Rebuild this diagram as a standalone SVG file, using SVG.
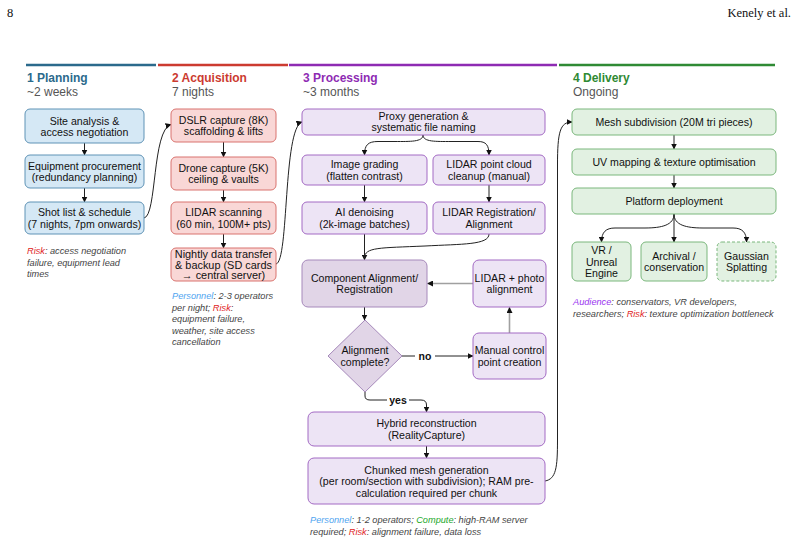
<svg xmlns="http://www.w3.org/2000/svg" width="801" height="544" viewBox="0 0 801 544">
<style>
text{font-family:"Liberation Sans",Arial,sans-serif;}
.pg{font-family:"Liberation Serif","Times New Roman",serif;font-size:12.5px;fill:#111}
.h{font-size:12px;font-weight:bold}
.sub{font-size:12px;fill:#555}
.t{font-size:10.6px;fill:#111;text-anchor:middle}
.note{font-size:9.2px;font-style:italic;fill:#444}
.lbl{font-size:10.5px;font-weight:bold;fill:#111;text-anchor:middle}
.pl{fill:#d5e8f5;stroke:#5f93b6;stroke-width:1}
.ac{fill:#f9d7d6;stroke:#d9736e;stroke-width:1}
.pr{fill:#ede4f5;stroke:#a36ac4;stroke-width:1}
.pr2{fill:#e1d5e7;stroke:#a689bb;stroke-width:1}
.de{fill:#e2f1e2;stroke:#7ab77c;stroke-width:1}
.c{fill:none;stroke:#222;stroke-width:1}
.g{fill:none;stroke:#a0a0a0;stroke-width:1.6}
.risk{fill:#e02424}
.pers{fill:#4ea4f0}
.comp{fill:#22a82a}
.aud{fill:#9a33f0}
</style>
<defs>
<marker id="a" markerWidth="6" markerHeight="6" refX="5.5" refY="3" orient="auto" markerUnits="userSpaceOnUse">
<path d="M0,0 L6,3 L0,6 z" fill="#111"/>
</marker>
</defs>

<text class="pg" x="7" y="17">8</text>
<text class="pg" x="791" y="17" text-anchor="end">Kenely et al.</text>

<g id="headers">
<line x1="26" y1="65" x2="156" y2="65" stroke="#2b6a8c" stroke-width="2.5"/>
<line x1="158" y1="65" x2="288" y2="65" stroke="#cc3b30" stroke-width="2.5"/>
<line x1="289" y1="65" x2="557" y2="65" stroke="#8e2bb3" stroke-width="2.5"/>
<line x1="559" y1="65" x2="775" y2="65" stroke="#2f8a34" stroke-width="2.5"/>
<text class="h" x="27" y="82" fill="#2b6a8c">1 Planning</text>
<text class="sub" x="27" y="96">~2 weeks</text>
<text class="h" x="172" y="82" fill="#cc3b30">2 Acquisition</text>
<text class="sub" x="172" y="96">7 nights</text>
<text class="h" x="303" y="82" fill="#8e2bb3">3 Processing</text>
<text class="sub" x="303" y="96">~3 months</text>
<text class="h" x="573" y="82" fill="#2f8a34">4 Delivery</text>
<text class="sub" x="573" y="96">Ongoing</text>
</g>

<g id="connectors">
<path class="c" d="M84.5,143 L84.5,155" marker-end="url(#a)"/>
<path class="c" d="M84.5,188 L84.5,202" marker-end="url(#a)"/>
<path class="c" d="M144,218 C157,216 152,130 171,124.5" marker-end="url(#a)"/>
<path class="c" d="M223.5,142 L223.5,157" marker-end="url(#a)"/>
<path class="c" d="M223.5,190 L223.5,202" marker-end="url(#a)"/>
<path class="c" d="M223.5,234 L223.5,248" marker-end="url(#a)"/>
<path class="c" d="M276,264 C289,262 283,128 302,122" marker-end="url(#a)"/>
<path class="c" d="M423,135 C423,142 410,141.5 395,141.5 L378,141.5 C368,141.5 364.5,145 364.5,155" marker-end="url(#a)"/>
<path class="c" d="M423,135 C423,142 436,141.5 451,141.5 L478,141.5 C486,141.5 489,145 489,155" marker-end="url(#a)"/>
<path class="c" d="M364.5,185 L364.5,202" marker-end="url(#a)"/>
<path class="c" d="M489,185 L489,202" marker-end="url(#a)"/>
<path class="c" d="M364.5,234 L364.5,260" marker-end="url(#a)"/>
<path class="c" d="M489,234 C489,245 462,244 425,246 C380,248 364.5,247 364.5,258"/>
<path class="c" d="M364.5,307 L364.5,320" marker-end="url(#a)"/>
<path class="c" d="M402,356 L473,356" marker-end="url(#a)"/>
<path class="g" d="M509.5,333 L509.5,307.5" marker-end="url(#a)"/>
<path class="g" d="M473,283.5 L427.5,283.5" marker-end="url(#a)"/>
<path class="c" d="M365,392 L365,396 Q365,400 370,400 L421,400 Q426.5,400 426.5,405 L426.5,412" marker-end="url(#a)"/>
<path class="c" d="M426.5,446 L426.5,458" marker-end="url(#a)"/>
<path class="c" d="M545,481 C556,479 557.5,468 557.5,440 L557.5,165 C557.5,132 560,122 572,122" marker-end="url(#a)"/>
<path class="c" d="M674,135 L674,149" marker-end="url(#a)"/>
<path class="c" d="M674,175 L674,188" marker-end="url(#a)"/>
<path class="c" d="M674,214 L674,242" marker-end="url(#a)"/>
<path class="c" d="M674,214 C674,225 662,228 645,228 L615,228 C606,228 601.5,232 601.5,242" marker-end="url(#a)"/>
<path class="c" d="M674,214 C674,225 686,228 703,228 L733,228 C742,228 746.5,232 746.5,242" marker-end="url(#a)"/>
<rect x="415" y="351" width="20" height="11" fill="#fff"/>
<text class="lbl" x="425" y="360">no</text>
<rect x="387" y="395" width="22" height="11" fill="#fff"/>
<text class="lbl" x="398" y="404">yes</text>
</g>

<g id="site-analysis"><rect class="pl" x="25" y="109" width="119" height="34" rx="5"/>
<text class="t" x="84.5" y="124.5">Site analysis &amp;</text><text class="t" x="84.5" y="136">access negotiation</text></g>
<g id="equipment"><rect class="pl" x="25" y="155" width="119" height="33" rx="5"/>
<text class="t" x="84.5" y="169.5">Equipment procurement</text><text class="t" x="84.5" y="181">(redundancy planning)</text></g>
<g id="shot-list"><rect class="pl" x="25" y="202" width="119" height="32" rx="5"/>
<text class="t" x="84.5" y="216">Shot list &amp; schedule</text><text class="t" x="84.5" y="227.5">(7 nights, 7pm onwards)</text></g>
<g id="planning-note"><text class="note" x="27" y="254"><tspan class="risk">Risk</tspan>: access negotiation</text>
<text class="note" x="27" y="265.5">failure, equipment lead</text><text class="note" x="27" y="277">times</text></g>

<g id="dslr"><rect class="ac" x="171" y="109" width="105" height="33" rx="5"/>
<text class="t" x="223.5" y="123.5">DSLR capture (8K)</text><text class="t" x="223.5" y="135">scaffolding &amp; lifts</text></g>
<g id="drone"><rect class="ac" x="171" y="157" width="105" height="33" rx="5"/>
<text class="t" x="223.5" y="171.5">Drone capture (5K)</text><text class="t" x="223.5" y="183">ceiling &amp; vaults</text></g>
<g id="lidar-scan"><rect class="ac" x="171" y="202" width="105" height="32" rx="5"/>
<text class="t" x="223.5" y="216">LIDAR scanning</text><text class="t" x="223.5" y="227.5">(60 min, 100M+ pts)</text></g>
<g id="nightly"><rect class="ac" x="171" y="248" width="105" height="33" rx="5"/>
<text class="t" x="223.5" y="258" style="font-size:10.9px">Nightly data transfer</text><text class="t" x="223.5" y="268.5" style="font-size:10.9px">&amp; backup (SD cards</text><text class="t" x="223.5" y="279" style="font-size:10.9px">→ central server)</text></g>
<g id="acquisition-note"><text class="note" x="172" y="299"><tspan class="pers">Personnel</tspan>: 2-3 operators</text>
<text class="note" x="172" y="310.5">per night; <tspan class="risk">Risk</tspan>:</text>
<text class="note" x="172" y="322">equipment failure,</text>
<text class="note" x="172" y="333.5">weather, site access</text>
<text class="note" x="172" y="345">cancellation</text></g>

<g id="proxy"><rect class="pr" x="302" y="109" width="243" height="26" rx="5"/>
<text class="t" x="423.5" y="119.5">Proxy generation &amp;</text><text class="t" x="423.5" y="131">systematic file naming</text></g>
<g id="image-grading"><rect class="pr" x="302" y="155" width="125" height="30" rx="5"/>
<text class="t" x="364.5" y="168">Image grading</text><text class="t" x="364.5" y="179.5">(flatten contrast)</text></g>
<g id="lidar-cleanup"><rect class="pr" x="433" y="155" width="112" height="30" rx="5"/>
<text class="t" x="489" y="168">LIDAR point cloud</text><text class="t" x="489" y="179.5">cleanup (manual)</text></g>
<g id="ai-denoise"><rect class="pr" x="302" y="202" width="125" height="32" rx="5"/>
<text class="t" x="364.5" y="216">AI denoising</text><text class="t" x="364.5" y="227.5">(2k-image batches)</text></g>
<g id="lidar-reg"><rect class="pr" x="433" y="202" width="112" height="32" rx="5"/>
<text class="t" x="489" y="216">LIDAR Registration/</text><text class="t" x="489" y="227.5">Alignment</text></g>
<g id="component"><rect class="pr2" x="302" y="260" width="125" height="47" rx="6"/>
<text class="t" x="364.5" y="281.5">Component Alignment/</text><text class="t" x="364.5" y="293">Registration</text></g>
<g id="lidar-photo"><rect class="pr" x="473" y="260" width="73" height="47" rx="6"/>
<text class="t" x="509.5" y="281.5">LIDAR + photo</text><text class="t" x="509.5" y="293">alignment</text></g>
<g id="decision"><path class="pr2" d="M365,320 L402,356 L365,392 L328,356 Z"/>
<text class="t" x="365" y="354">Alignment</text><text class="t" x="365" y="365.5">complete?</text></g>
<g id="manual"><rect class="pr" x="473" y="333" width="73" height="46" rx="6"/>
<text class="t" x="509.5" y="354">Manual control</text><text class="t" x="509.5" y="365.5">point creation</text></g>
<g id="hybrid"><rect class="pr" x="308" y="412" width="237" height="34" rx="6"/>
<text class="t" x="426.5" y="427">Hybrid reconstruction</text><text class="t" x="426.5" y="438.5">(RealityCapture)</text></g>
<g id="chunked"><rect class="pr" x="308" y="458" width="237" height="46" rx="6"/>
<text class="t" x="426.5" y="473.5">Chunked mesh generation</text><text class="t" x="426.5" y="485">(per room/section with subdivision); RAM pre-</text><text class="t" x="426.5" y="496.5">calculation required per chunk</text></g>
<g id="processing-note"><text class="note" x="310" y="523"><tspan class="pers">Personnel</tspan>: 1-2 operators; <tspan class="comp">Compute</tspan>: high-RAM server</text>
<text class="note" x="310" y="534.5">required; <tspan class="risk">Risk</tspan>: alignment failure, data loss</text></g>

<g id="mesh-subdivision"><rect class="de" x="572" y="109" width="204" height="26" rx="5"/>
<text class="t" x="674" y="125.5">Mesh subdivision (20M tri pieces)</text></g>
<g id="uv-mapping"><rect class="de" x="572" y="149" width="204" height="26" rx="5"/>
<text class="t" x="674" y="165.5">UV mapping &amp; texture optimisation</text></g>
<g id="platform"><rect class="de" x="572" y="188" width="204" height="26" rx="5"/>
<text class="t" x="674" y="204.5">Platform deployment</text></g>
<g id="vr"><rect class="de" x="572" y="242" width="59" height="39" rx="5"/>
<text class="t" x="601.5" y="254">VR /</text><text class="t" x="601.5" y="265.5">Unreal</text><text class="t" x="601.5" y="277">Engine</text></g>
<g id="archival"><rect class="de" x="641" y="242" width="66" height="39" rx="5"/>
<text class="t" x="674" y="259.5">Archival /</text><text class="t" x="674" y="271">conservation</text></g>
<g id="gaussian"><rect class="de" x="717" y="242" width="59" height="39" rx="5" stroke-dasharray="3,2"/>
<text class="t" x="746.5" y="259.5">Gaussian</text><text class="t" x="746.5" y="271">Splatting</text></g>
<g id="delivery-note"><text class="note" x="573" y="305"><tspan class="aud">Audience</tspan>: conservators, VR developers,</text>
<text class="note" x="573" y="316.5">researchers; <tspan class="risk">Risk</tspan>: texture optimization bottleneck</text></g>
</svg>
